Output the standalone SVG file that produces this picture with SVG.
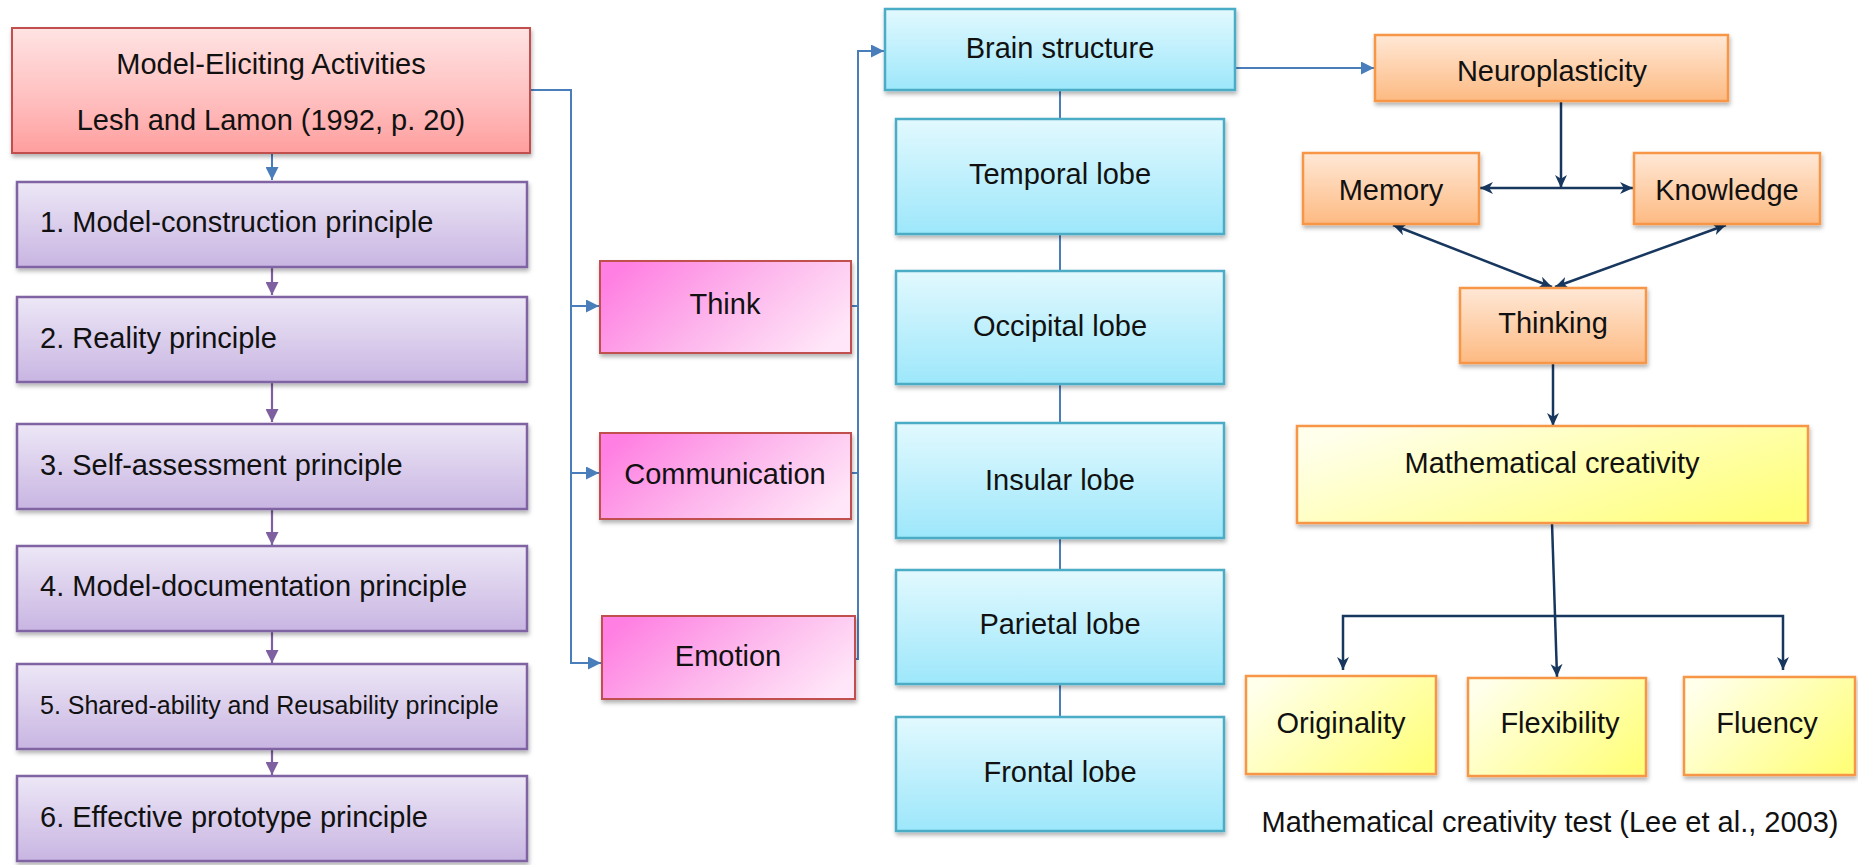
<svg xmlns="http://www.w3.org/2000/svg" width="1858" height="865" viewBox="0 0 1858 865">
<defs>
<style>
text{font-family:"Liberation Sans",Arial,sans-serif;font-size:29px;fill:#111;}
.c{text-anchor:middle;}
.s{font-size:25px;}
.red{fill:url(#gRed);stroke:#C0504D;stroke-width:2;filter:url(#sh);}
.pur{fill:url(#gPur);stroke:#8064A2;stroke-width:2.5;filter:url(#sh);}
.pink{fill:url(#gPink);stroke:#C0504D;stroke-width:2;filter:url(#sh);}
.cyan{fill:url(#gCyan);stroke:#4BACC6;stroke-width:2.5;filter:url(#sh);}
.org{fill:url(#gOrg);stroke:#F79646;stroke-width:2.5;filter:url(#sh);}
.yel{fill:url(#gYel);stroke:#F79646;stroke-width:2.5;filter:url(#sh);}
.bl{fill:none;stroke:#4A7EBB;stroke-width:2;}
.pl{fill:none;stroke:#7E60A0;stroke-width:2.2;}
.nv{fill:none;stroke:#17375E;stroke-width:2.5;}
</style>
<filter id="sh" x="-10%" y="-10%" width="120%" height="130%">
<feDropShadow dx="1" dy="3" stdDeviation="2" flood-color="#000" flood-opacity="0.3"/>
</filter>
<linearGradient id="gRed" x1="0" y1="0" x2="0" y2="1"><stop offset="0" stop-color="#FFE3E3"/><stop offset="0.6" stop-color="#FFBDBD"/><stop offset="1" stop-color="#FF9E9E"/></linearGradient>
<linearGradient id="gPur" x1="0" y1="0" x2="0" y2="1"><stop offset="0" stop-color="#EDE7F6"/><stop offset="1" stop-color="#C8B5E2"/></linearGradient>
<linearGradient id="gPink" x1="0" y1="0.3" x2="1" y2="0.7"><stop offset="0" stop-color="#FF80E2"/><stop offset="0.5" stop-color="#FDB6EC"/><stop offset="1" stop-color="#FFE6F8"/></linearGradient>
<linearGradient id="gCyan" x1="0" y1="0" x2="0" y2="1"><stop offset="0" stop-color="#E2F9FE"/><stop offset="1" stop-color="#9DE7FB"/></linearGradient>
<linearGradient id="gOrg" x1="0" y1="0" x2="0" y2="1"><stop offset="0" stop-color="#FFE8D6"/><stop offset="1" stop-color="#FDBA82"/></linearGradient>
<linearGradient id="gYel" x1="0" y1="0.2" x2="1" y2="0.8"><stop offset="0" stop-color="#FFFFEC"/><stop offset="1" stop-color="#FFFF7C"/></linearGradient>
<marker id="aB" viewBox="0 0 12 12" refX="12" refY="6" markerWidth="13" markerHeight="13" markerUnits="userSpaceOnUse" orient="auto"><path d="M0,0 L12,6 L0,12 z" fill="#4A7EBB"/></marker>
<marker id="aP" viewBox="0 0 12 12" refX="12" refY="6" markerWidth="13" markerHeight="13" markerUnits="userSpaceOnUse" orient="auto"><path d="M0,0 L12,6 L0,12 z" fill="#7E60A0"/></marker>
<marker id="aN" viewBox="0 0 12 12" refX="12" refY="6" markerWidth="13" markerHeight="13" markerUnits="userSpaceOnUse" orient="auto-start-reverse"><path d="M0,0.5 L12,6 L0,11.5 L3.5,6 z" fill="#17375E"/></marker>
</defs>
<rect width="1858" height="865" fill="#fff"/>

<g id="connectors">
<path class="bl" d="M272,153 V180" marker-end="url(#aB)"/>
<path class="pl" d="M272,267 V295" marker-end="url(#aP)"/>
<path class="pl" d="M272,382 V422" marker-end="url(#aP)"/>
<path class="pl" d="M272,510 V545" marker-end="url(#aP)"/>
<path class="pl" d="M272,632 V663" marker-end="url(#aP)"/>
<path class="pl" d="M272,750 V775" marker-end="url(#aP)"/>
<path class="bl" d="M530,90 H571 V663 H601" marker-end="url(#aB)"/>
<path class="bl" d="M571,306 H599" marker-end="url(#aB)"/>
<path class="bl" d="M571,473 H599" marker-end="url(#aB)"/>
<path class="bl" d="M851,306 H858"/>
<path class="bl" d="M851,473 H858"/>
<path class="bl" d="M855,659 H858 V51 H884" marker-end="url(#aB)"/>
<path class="bl" d="M1060,90 V119 M1060,234 V271 M1060,384 V423 M1060,538 V570 M1060,684 V717"/>
<path class="bl" d="M1224,68 H1374" marker-end="url(#aB)"/>
<path class="nv" d="M1561,101 V188" marker-end="url(#aN)"/>
<path class="nv" d="M1480,188 H1633" marker-start="url(#aN)" marker-end="url(#aN)"/>
<path class="nv" d="M1393,225 L1552,287" marker-start="url(#aN)" marker-end="url(#aN)"/>
<path class="nv" d="M1726,225 L1555,287" marker-start="url(#aN)" marker-end="url(#aN)"/>
<path class="nv" d="M1553,363 V426" marker-end="url(#aN)"/>
<path class="nv" d="M1552,523 L1557,677" marker-end="url(#aN)"/>
<path class="nv" d="M1343,670 V616 H1783 V670" marker-start="url(#aN)" marker-end="url(#aN)"/>
</g>

<g id="mea"><rect class="red" x="12" y="28" width="518" height="125"/>
<text class="c" x="271" y="74">Model-Eliciting Activities</text>
<text class="c" x="271" y="130">Lesh and Lamon (1992, p. 20)</text></g>
<g id="p1"><rect class="pur" x="17" y="182" width="510" height="85"/><text x="40" y="232">1. Model-construction principle</text></g>
<g id="p2"><rect class="pur" x="17" y="297" width="510" height="85"/><text x="40" y="348">2. Reality principle</text></g>
<g id="p3"><rect class="pur" x="17" y="424" width="510" height="85"/><text x="40" y="475">3. Self-assessment principle</text></g>
<g id="p4"><rect class="pur" x="17" y="546" width="510" height="85"/><text x="40" y="596">4. Model-documentation principle</text></g>
<g id="p5"><rect class="pur" x="17" y="664" width="510" height="85"/><text class="s" x="40" y="714">5. Shared-ability and Reusability principle</text></g>
<g id="p6"><rect class="pur" x="17" y="776" width="510" height="85"/><text x="40" y="827">6. Effective prototype principle</text></g>

<g id="think"><rect class="pink" x="600" y="261" width="251" height="92"/><text class="c" x="725" y="314">Think</text></g>
<g id="comm"><rect class="pink" x="600" y="433" width="251" height="86"/><text class="c" x="725" y="484">Communication</text></g>
<g id="emotion"><rect class="pink" x="602" y="616" width="253" height="83"/><text class="c" x="728" y="666">Emotion</text></g>

<g id="brain"><rect class="cyan" x="885" y="9" width="350" height="81"/><text class="c" x="1060" y="58">Brain structure</text></g>
<g id="temporal"><rect class="cyan" x="896" y="119" width="328" height="115"/><text class="c" x="1060" y="184">Temporal lobe</text></g>
<g id="occipital"><rect class="cyan" x="896" y="271" width="328" height="113"/><text class="c" x="1060" y="336">Occipital lobe</text></g>
<g id="insular"><rect class="cyan" x="896" y="423" width="328" height="115"/><text class="c" x="1060" y="490">Insular lobe</text></g>
<g id="parietal"><rect class="cyan" x="896" y="570" width="328" height="114"/><text class="c" x="1060" y="634">Parietal lobe</text></g>
<g id="frontal"><rect class="cyan" x="896" y="717" width="328" height="114"/><text class="c" x="1060" y="782">Frontal lobe</text></g>

<g id="neuro"><rect class="org" x="1375" y="35" width="353" height="66"/><text class="c" x="1552" y="81">Neuroplasticity</text></g>
<g id="memory"><rect class="org" x="1303" y="153" width="176" height="71"/><text class="c" x="1391" y="200">Memory</text></g>
<g id="knowledge"><rect class="org" x="1634" y="153" width="186" height="71"/><text class="c" x="1727" y="200">Knowledge</text></g>
<g id="thinking"><rect class="org" x="1460" y="288" width="186" height="75"/><text class="c" x="1553" y="333">Thinking</text></g>
<g id="mathc"><rect class="yel" x="1297" y="426" width="511" height="97"/><text class="c" x="1552" y="473">Mathematical creativity</text></g>
<g id="orig"><rect class="yel" x="1246" y="676" width="190" height="98"/><text class="c" x="1341" y="733">Originality</text></g>
<g id="flex"><rect class="yel" x="1468" y="678" width="178" height="98"/><text class="c" x="1560" y="733">Flexibility</text></g>
<g id="flu"><rect class="yel" x="1684" y="677" width="171" height="98"/><text class="c" x="1767" y="733">Fluency</text></g>
<text id="caption" class="c" x="1550" y="832">Mathematical creativity test (Lee et al., 2003)</text>
</svg>
